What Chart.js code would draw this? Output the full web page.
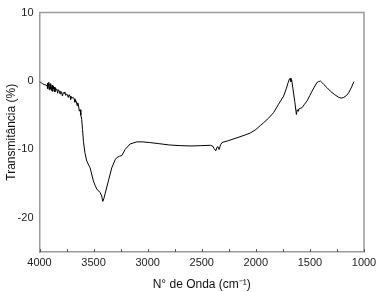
<!DOCTYPE html>
<html>
<head>
<meta charset="utf-8">
<script src="https://cdn.jsdelivr.net/npm/chart.js@4.4.1/dist/chart.umd.min.js"></script>
<style>
  html, body { margin: 0; padding: 0; background: #fff; }
  canvas { display: block; }
</style>
</head>
<body>
<canvas id="ftirChart" width="384" height="292"></canvas>
<script>
// FTIR spectrum
const wavenumbers = [
    4000, 3990, 3980, 3970, 3960, 3950, 3940, 3930, 3926, 3922, 3918, 3914, 3910, 3906, 3902, 3898,
    3894, 3890, 3886, 3882, 3878, 3874, 3870, 3864, 3858, 3852, 3846, 3840, 3832, 3826, 3818, 3810,
    3804, 3796, 3788, 3780, 3772, 3766, 3758, 3750, 3742, 3734, 3726, 3718, 3712, 3704, 3696, 3688,
    3680, 3672, 3666, 3660, 3652, 3646, 3640, 3632, 3625, 3618, 3610, 3602, 3594, 3580,
    3563, 3545, 3532, 3502, 3485, 3470, 3440, 3425, 3415, 3405, 3394, 3363, 3332, 3300, 3285, 3260,
    3239, 3208, 3162, 3100, 3050, 2980, 2900, 2800, 2700, 2600, 2500, 2420, 2400, 2385, 2370, 2360,
    2350, 2340, 2325, 2313, 2250, 2174, 2100, 2051, 2000, 1958, 1928, 1880, 1835, 1790, 1743, 1720,
    1705, 1696, 1690, 1681, 1675, 1670, 1665, 1650, 1640, 1630, 1625, 1618, 1610, 1604, 1590, 1573,
    1550, 1526, 1500, 1481, 1460, 1434, 1420, 1403, 1390, 1372, 1340, 1310, 1270, 1233, 1210, 1187,
    1160, 1141, 1115, 1094
];
const transmittance = [
    -0.1, -0.2, -0.3, -0.4, -0.5, -0.55, -0.6, -0.7, -0.3, -1.1, -0.6, -0.2, -1.3, -0.8, -0.4, -1.2,
    -0.5, -1.4, -0.9, -0.6, -1.5, -0.8, -1.1, -0.9, -1.6, -1.0, -1.3, -1.2, -1.8, -1.3, -1.4, -1.9,
    -1.5, -1.6, -2.2, -1.7, -1.8, -1.6, -2.1, -1.9, -2.0, -2.4, -2.0, -2.2, -2.7, -2.3, -2.5, -2.4,
    -2.6, -3.1, -2.8, -3.0, -3.6, -3.2, -3.5, -4.4, -4.2, -5.0, -5.6, -7.1, -8.8, -10.5,
    -11.7, -12.3, -12.7, -14.6, -15.3, -15.8, -16.3, -16.8, -17.6, -17.2, -16.5, -14.6, -12.7, -11.5, -11.2, -11.0,
    -10.9, -10.0, -9.2, -8.9, -8.9, -9.0, -9.15, -9.35, -9.45, -9.5, -9.45, -9.4, -9.5, -9.9, -10.2, -9.7,
    -9.6, -10.0, -9.3, -9.0, -8.7, -8.3, -7.9, -7.6, -7.1, -6.5, -6.1, -5.4, -4.6, -3.4, -2.2, -1.2,
    -0.4, 0.0, 0.3, 0.4, -0.1, 0.2, -0.2, -1.9, -3.0, -4.3, -4.9, -4.2, -4.4, -4.1, -4.0, -3.9,
    -3.4, -2.9, -2.1, -1.5, -0.9, -0.2, -0.1, 0.0, -0.2, -0.5, -1.0, -1.5, -2.0, -2.4, -2.5, -2.4,
    -2.1, -1.7, -0.9, -0.1
];
const xTickLabels = [4000, 3500, 3000, 2500, 2000, 1500, 1000];
const xMinorTicks = [3750, 3250, 2750, 2250, 1750, 1250];
const yTickLabels = [-20, -10, 0, 10];

const axisGray = '#9a9a9a';
const fontFamily = "'Liberation Sans', Arial, sans-serif";

// Draws the top/right frame and the inward tick marks on the bottom axis
const framePlugin = {
    id: 'frame',
    afterDraw(chart) {
        const ctx = chart.ctx;
        const area = chart.chartArea;
        const xScale = chart.scales.x;
        ctx.save();
        ctx.strokeStyle = axisGray;
        ctx.lineWidth = 1.5;
        ctx.beginPath();
        ctx.moveTo(area.left, area.top);
        ctx.lineTo(area.right, area.top);
        ctx.lineTo(area.right, area.bottom);
        ctx.stroke();

        ctx.strokeStyle = '#555';
        ctx.lineWidth = 1;
        xTickLabels.concat(xMinorTicks).forEach(v => {
            const px = Math.round(xScale.getPixelForValue(v)) + 0.5;
            ctx.beginPath();
            ctx.moveTo(px, area.bottom);
            ctx.lineTo(px, area.bottom - 3);
            ctx.stroke();
        });
        ctx.restore();
    }
};

document.addEventListener('DOMContentLoaded', function() {
    const ctx = document.getElementById('ftirChart').getContext('2d');

    new Chart(ctx, {
        type: 'line',
        data: {
            datasets: [{
                data: wavenumbers.map((w, i) => ({ x: w, y: transmittance[i] })),
                borderColor: '#000',
                borderWidth: 1,
                pointRadius: 0,
                tension: 0,
                fill: false
            }]
        },
        options: {
            responsive: false,
            animation: false,
            layout: {
                autoPadding: false,
                padding: { top: 11, right: 20, left: 0, bottom: 0 }
            },
            plugins: {
                legend: { display: false },
                tooltip: { enabled: false }
            },
            scales: {
                x: {
                    type: 'linear',
                    reverse: true,
                    min: 1000,
                    max: 4000,
                    afterBuildTicks: scale => {
                        scale.ticks = xTickLabels.map(v => ({ value: v }));
                    },
                    afterFit: scale => { scale.height = 40; },
                    ticks: {
                        color: '#222',
                        font: { family: fontFamily, size: 11 },
                        padding: 4,
                        maxRotation: 0,
                        autoSkip: false,
                        callback: v => String(v)
                    },
                    grid: { display: true, drawOnChartArea: false, drawTicks: false },
                    border: { display: true, color: axisGray, width: 1.5 },
                    title: {
                        display: true,
                        text: 'N° de Onda (cm⁻¹)',
                        color: '#111',
                        font: { family: fontFamily, size: 12 },
                        padding: { top: 2, bottom: 0 }
                    }
                },
                y: {
                    type: 'linear',
                    min: -25,
                    max: 10,
                    afterBuildTicks: scale => {
                        scale.ticks = yTickLabels.map(v => ({ value: v }));
                    },
                    afterFit: scale => { scale.width = 39.5; },
                    ticks: {
                        color: '#222',
                        font: { family: fontFamily, size: 11 },
                        padding: 6,
                        callback: v => String(v)
                    },
                    grid: { display: true, drawOnChartArea: false, drawTicks: false },
                    border: { display: true, color: axisGray, width: 1.5 },
                    title: {
                        display: true,
                        text: 'Transmitância (%)',
                        color: '#111',
                        font: { family: fontFamily, size: 12 },
                        padding: { top: 4, bottom: 0 }
                    }
                }
            }
        },
        plugins: [framePlugin]
    });
});
</script>
</body>
</html>
